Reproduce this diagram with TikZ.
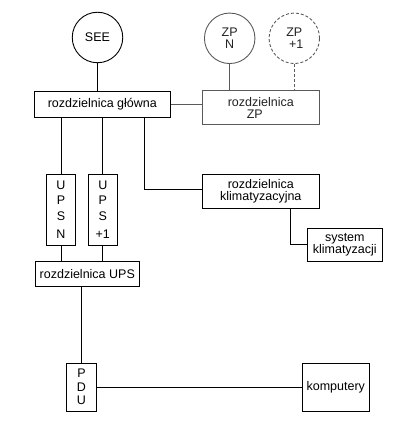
\documentclass[tikz,border=0pt]{standalone}
\usepackage{fontspec}
\setmainfont{Liberation Sans}
\definecolor{zpgray}{HTML}{5A5A5A}
\definecolor{zptext}{HTML}{222222}
\begin{document}
\begin{tikzpicture}[x=1pt,y=-1pt,
  every node/.style={font=\fontsize{12.5}{12.5}\selectfont, inner sep=0pt, align=center},
  box/.style={draw, line width=0.9pt, minimum width=#1},
  circ/.style={draw, circle, line width=0.9pt, minimum size=50.5pt},
  gbox/.style={draw=zpgray, text=zptext, line width=0.9pt},
  conn/.style={line width=0.9pt},
  gconn/.style={line width=0.9pt, draw=zpgray},
]
\useasboundingbox (0,0) rectangle (417,422);

\node[circ] (see) at (97.5,37.5) {SEE};
\node[circ, draw=zpgray, text=zptext] (zpn) at (229.7,38.3) {ZP\\N};
\node[circ, draw=zpgray, text=zptext, densely dashed] (zp1) at (294.3,38.3) {ZP\\\hspace*{4pt}+1};

\node[box=136.7pt, minimum height=26.3pt] (glowna) at (102.3,104.2) {rozdzielnica główna};
\node[gbox, minimum width=117pt, minimum height=34.3pt] (zpbox) at (260.8,107.8) {rozdzielnica\\ZP\hspace*{12pt}};

\node[box=29.4pt, minimum height=71.7pt, font=\fontsize{12.5}{15.5}\selectfont] (upsn) at (61,209.8) {U\\P\\S\\[3pt]N};
\node[box=29pt, minimum height=71.7pt, font=\fontsize{12.5}{15.5}\selectfont] (ups1) at (102.8,209.8) {U\\P\\S\\[3pt]+1};

\node[box=117pt, minimum height=34.3pt, font=\fontsize{12.5}{11.5}\selectfont] (klim) at (260.8,191.2) {rozdzielnica\\klimatyzacyjna};
\node[box=75pt, minimum height=32.7pt, font=\fontsize{12.5}{11.5}\selectfont] (sys) at (344.8,244.7) {system\\klimatyzacji};

\node[box=104pt, minimum height=25pt] (rups) at (87.3,273.8) {rozdzielnica UPS};
\node[box=30.4pt, minimum height=47.7pt, font=\fontsize{12.5}{13.5}\selectfont] (pdu) at (81.5,387.2) {P\\D\\U};
\node[box=67pt, minimum height=47.7pt] (komp) at (335.8,387.2) {komputery};

\coordinate (gk) at (144.3,189.3);
\coordinate (ks) at (290.3,244.7);

\draw[conn] (see.south) -- (see.south |- glowna.north);
\draw[gconn] (glowna.east) -- (zpbox.west |- glowna.east);
\draw[gconn] (zpn.south) -- (zpn.south |- zpbox.north);
\draw[gconn, densely dashed] (zp1.south) -- (zp1.south |- zpbox.north);
\draw[conn] (upsn.north |- glowna.south) -- (upsn.north);
\draw[conn] (ups1.north |- glowna.south) -- (ups1.north);
\draw[conn] (gk |- glowna.south) -- (gk) -- (gk -| klim.west);
\draw[conn] (ks |- klim.south) -- (ks) -- (sys.west);
\draw[conn] (upsn.south) -- (upsn.south |- rups.north);
\draw[conn] (ups1.south) -- (ups1.south |- rups.north);
\draw[conn] (pdu.north |- rups.south) -- (pdu.north);
\draw[conn] (pdu.east) -- (komp.west);
\end{tikzpicture}
\end{document}
